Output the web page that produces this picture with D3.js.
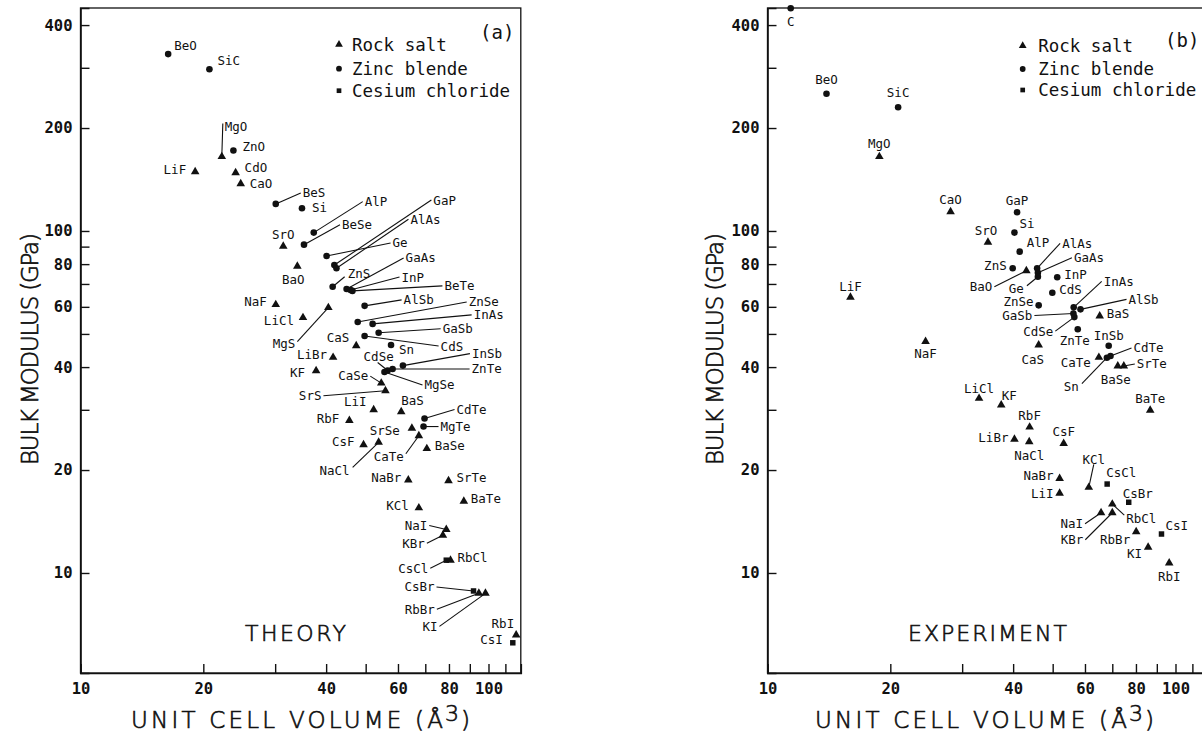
<!DOCTYPE html>
<html>
<head>
<meta charset="utf-8">
<script src="https://cdn.jsdelivr.net/npm/d3@7"></script>
<style>
  html, body { margin: 0; padding: 0; background: #fff; }
  svg { display: block; }
</style>
</head>
<body>
<svg id="chart" width="1202" height="736"></svg>
<script>
// ---------------- Theory: unit cell volume (Å^3) vs bulk modulus (GPa) ----------------
// Structure codes: R = rock salt, Z = zinc blende, C = cesium chloride
const theoryNames = ["BeO","SiC","MgO","ZnO","LiF","CdO","CaO","BeS","Si","SrO","BeSe","AlP","BaO","NaF","LiCl","MgS","LiBr","KF","Ge","GaP","AlAs","ZnS","GaAs","InP","BeTe","AlSb","ZnSe","InAs","GaSb","CaS","CdS","Sn","CdSe","InSb","ZnTe","MgSe","CaSe","SrS","LiI","BaS","RbF","CdTe","SrSe","MgTe","CsF","NaCl","CaTe","BaSe","NaBr","SrTe","BaTe","KCl","NaI","KBr","CsCl","RbCl","CsBr","RbBr","KI","RbI","CsI"];
const theoryStructure = ["Z","Z","R","Z","R","R","R","Z","Z","R","Z","Z","R","R","R","R","R","R","Z","Z","Z","Z","Z","Z","Z","Z","Z","Z","Z","R","Z","Z","Z","Z","Z","Z","R","R","R","R","R","Z","R","Z","R","R","R","R","R","R","R","R","R","R","C","R","C","R","R","R","C"];
const theoryVolume = [16.4,20.7,22.2,23.7,19.1,24.0,24.7,30.1,34.9,31.4,35.3,37.3,34.0,30.1,35.1,40.5,41.6,37.8,40.1,41.9,42.4,41.5,44.9,45.9,46.4,49.7,47.8,52.0,53.8,47.4,49.7,57.7,56.6,61.7,58.2,55.6,54.6,55.9,52.3,61.1,45.6,69.7,64.9,69.3,49.4,53.8,67.5,70.6,63.6,79.8,87.0,67.5,78.8,77.3,78.8,80.7,91.9,94.7,98.3,116.9,114.7];
const theoryModulus = [329,297,165,172,149,148,137.5,120,116.5,90.2,91.2,98.9,78.9,60.9,55.8,59.7,42.7,39.0,84.5,79.5,77.8,68.7,67.7,67.2,66.8,60.4,54.2,53.5,50.4,46.2,49.3,46.4,39.1,40.4,39.5,38.7,35.9,34.1,30.0,29.6,27.9,28.3,26.5,26.8,23.7,24.1,25.2,23.1,18.7,18.6,16.2,15.5,13.4,12.9,10.9,10.9,8.86,8.72,8.72,6.59,6.25];

// ---------------- Experiment ----------------
const experimentNames = ["C","BeO","SiC","MgO","CaO","SrO","LiF","NaF","GaP","Si","AlP","ZnS","BaO","AlAs","GaAs","Ge","InP","CdS","ZnSe","InAs","AlSb","GaSb","CdSe","BaS","ZnTe","InSb","CdTe","Sn","CaS","CaTe","BaSe","SrTe","BaTe","KF","LiCl","RbF","LiBr","NaCl","CsF","NaBr","LiI","KCl","CsCl","CsBr","RbCl","NaI","KBr","RbBr","CsI","KI","RbI"];
const experimentStructure = ["Z","Z","Z","R","R","R","R","R","Z","Z","Z","Z","R","Z","Z","Z","Z","Z","Z","Z","Z","Z","Z","R","Z","Z","Z","Z","R","R","R","R","R","R","R","R","R","R","R","R","R","R","C","C","R","R","R","R","C","R","R"];
const experimentVolume = [11.4,13.95,20.9,18.8,28.1,34.7,15.97,24.4,40.9,40.3,41.5,39.9,43.1,45.8,46.0,46.0,51.3,49.9,46.2,56.3,58.5,56.2,56.5,65.2,57.6,68.6,69.3,67.9,46.2,64.9,72.2,74.7,86.7,37.4,33.0,43.9,40.3,43.8,53.2,52.0,52.0,61.3,68.0,76.8,70.0,65.7,70.0,80.1,92.4,85.7,96.5];
const experimentModulus = [448,252,230,165,113.9,92.7,64.0,47.5,113.4,98.9,87.0,77.8,76.5,77.8,75.5,73.5,73.2,66.0,60.6,59.8,59.0,57.4,56.0,56.4,51.6,46.2,43.1,42.6,46.4,42.7,40.3,40.3,29.9,31.0,32.4,26.7,24.6,24.2,23.9,18.9,17.1,17.8,18.2,16.1,15.9,15.0,15.0,13.2,13.0,11.9,10.7];

// ---------------- Axis ticks and legend ----------------
const xTickValues = [10,20,30,40,50,60,70,80,90,100,110];
const xTickLabels = ["10","20","","40","","60","","80","","100",""];
const yTickValues = [10,20,30,40,50,60,70,80,90,100,200,300,400];
const yTickLabels = ["10","20","","40","","60","","80","","100","200","","400"];
const legendKeys = ["R","Z","C"];
const legendLabels = ["Rock salt","Zinc blende","Cesium chloride"];

// Label placement: [dx, dy, anchor (s|e|m), leader (1 = to text edge, or [dx,dy] end point)]
const theoryLabelPlacement = {
  BeO:[6,-9,"s"], SiC:[8,-9,"s"], MgO:[3,-30,"s",[1,-33]], ZnO:[9,-4,"s"], LiF:[-9,-2,"e"],
  CdO:[9,-5,"s"], CaO:[9,0,"s"], BeS:[27,-11,"s",1], Si:[10,-1,"s"], SrO:[0,-12,"m"],
  BeSe:[38,-20,"s",1], AlP:[51,-31,"s",1], BaO:[-4,13,"m"], NaF:[-9,-3,"e"], LiCl:[-9,3,"e"],
  MgS:[-33,36,"e",[-31,34]], LiBr:[-6,-3,"e"], KF:[-11,2,"e"], Ge:[66,-13,"s",1], GaP:[99,-65,"s",1],
  AlAs:[74,-49,"s",1], ZnS:[15,-13,"s",[12,-10]], GaAs:[59,-31,"s",1], InP:[51,-13,"s",1], BeTe:[92,-5,"s",1],
  AlSb:[39,-6,"s",1], ZnSe:[111,-20,"s",1], InAs:[101,-9,"s",1], GaSb:[64,-4,"s",1], CaS:[-7,-8,"e"],
  CdS:[76,10,"s",1], Sn:[8,4,"s"], CdSe:[-9,-14,"m",[-10,-8]], InSb:[69,-12,"s",1], ZnTe:[79,0,"s",1],
  MgSe:[40,13,"s",1], CaSe:[-13,-8,"e",[-11,-7]], SrS:[-64,5,"e",1], LiI:[-7,-8,"e"], BaS:[0,-11,"s"],
  RbF:[-10,-2,"e"], CdTe:[32,-9,"s",1], SrSe:[-12,2,"e"], MgTe:[17,0,"s",1], CsF:[-9,-3,"e"],
  NaCl:[-29,28,"e",[-26,25]], CaTe:[-15,21,"e",[-13,18]], BaSe:[8,-3,"s"], NaBr:[-7,-3,"e"], SrTe:[8,-3,"s"],
  BaTe:[7,-3,"s"], KCl:[-10,-2,"e"], NaI:[-19,-4,"e",1], KBr:[-18,8,"e",1], CsCl:[-18,8,"e",1],
  RbCl:[7,-3,"s"], CsBr:[-39,-4,"e",1], RbBr:[-44,16,"e",1], KI:[-48,33,"e",1], RbI:[-2,-11,"e"], CsI:[-10,-3,"e"]
};
const experimentLabelPlacement = {
  C:[0,13,"m"], BeO:[0,-14,"m"], SiC:[0,-15,"m"], MgO:[0,-13,"m"], CaO:[0,-12,"m"], SrO:[-2,-12,"m"],
  LiF:[0,-11,"m"], NaF:[0,12,"m"], GaP:[0,-12,"m"], Si:[5,-9,"s"], AlP:[7,-9,"s"], ZnS:[-6,-3,"e"],
  BaO:[-34,16,"e",1], AlAs:[25,-25,"s",1], GaAs:[36,-15,"s",1], Ge:[-14,12,"e",[-11,9]], InP:[7,-3,"s"],
  CdS:[7,-3,"s"], ZnSe:[-5,-4,"e"], InAs:[30,-26,"s",1], AlSb:[48,-10,"s",1], GaSb:[-41,2,"e",1],
  CdSe:[-21,14,"e",1], BaS:[7,-3,"s"], ZnTe:[-3,11,"m"], InSb:[0,-10,"m"], CdTe:[23,-8,"s",1],
  Sn:[-28,29,"e",[-25,26]], CaS:[-6,14,"m"], CaTe:[-8,5,"e"], BaSe:[-2,14,"m"], SrTe:[13,-2,"s",1],
  BaTe:[0,-12,"m"], KF:[8,-9,"m"], LiCl:[0,-10,"m"], RbF:[0,-12,"m"], LiBr:[-6,-2,"e"], NaCl:[0,14,"m"],
  CsF:[0,-12,"m"], NaBr:[-6,-3,"e"], LiI:[-6,0,"e"], KCl:[5,-28,"m",[5,-23]], CsCl:[-1,-12,"s"],
  CsBr:[-6,-9,"s"], RbCl:[14,14,"s",[12,11]], NaI:[-18,11,"e",1], KBr:[-29,27,"e",1], RbBr:[-6,8,"e"],
  CsI:[4,-9,"s"], KI:[-6,6,"e"], RbI:[0,14,"m"]
};

// ---------------- Drawing ----------------
const svg = d3.select("#chart");
const MONO = "'DejaVu Sans Mono', monospace";
const SANS = "'DejaVu Sans', sans-serif";

const yScale = d3.scaleLog().domain([5.1, 448.7]).range([673, 8]);
const symbolFor = { R: d3.symbolTriangle, Z: d3.symbolCircle, C: d3.symbolSquare };
const symbolSize = { R: 32, Z: 34, C: 30 };
const legendSize = { R: 26, Z: 26, C: 22 };
const anchorOf = { s: "start", e: "end", m: "middle" };

// thin plotter-style lettering for titles and captions
function titleStyle(sel, size) {
  return sel.style("font-family", SANS).style("font-size", size + "px").style("font-weight", 200)
    .attr("fill", "#111").attr("stroke", "#111").attr("stroke-width", 0.65);
}

function drawPanel(cfg) {
  const x = d3.scaleLog().domain([10, 120]).range([cfg.left, cfg.left + 440.3]);
  const [x0, x1] = x.range();
  const [yb, yt] = yScale.range();
  const g = svg.append("g");

  // frame
  g.append("rect")
    .attr("x", x0).attr("y", yt).attr("width", x1 - x0).attr("height", yb - yt)
    .attr("fill", "none").attr("stroke", "#111").attr("stroke-width", 1.3);

  // axes with inward ticks
  const xAxis = d3.axisBottom(x).tickValues(xTickValues)
    .tickFormat((d, i) => xTickLabels[i]).tickSize(-9).tickPadding(10);
  const gx = g.append("g").attr("transform", `translate(0,${yb})`).call(xAxis);
  const yAxis = d3.axisLeft(yScale).tickValues(yTickValues)
    .tickFormat((d, i) => yTickLabels[i]).tickSize(-9).tickPadding(8);
  const gy = g.append("g").attr("transform", `translate(${x0},0)`).call(yAxis);
  [gx, gy].forEach(a => {
    a.select(".domain").attr("stroke", "#111").attr("stroke-width", 1.6);
    a.selectAll(".tick line").attr("stroke", "#111").attr("stroke-width", 1.4);
    a.selectAll(".tick text").attr("fill", "#111")
      .style("font-family", MONO).style("font-size", "15.5px").style("font-weight", "bold");
  });

  // axis titles
  titleStyle(g.append("text").attr("x", cfg.xTitleX).attr("y", 728).attr("textLength", 312), 23)
    .text("UNIT CELL VOLUME  (Å");
  titleStyle(g.append("text").attr("x", cfg.xTitleX + 314).attr("y", 721), 22).text("3");
  titleStyle(g.append("text").attr("x", cfg.xTitleX + 330).attr("y", 728), 23).text(")");
  titleStyle(g.append("text")
    .attr("transform", `translate(${cfg.yTitleX},349) rotate(-90)`)
    .attr("text-anchor", "middle").attr("textLength", 232), 23)
    .text("BULK MODULUS  (GPa)");

  // panel caption
  titleStyle(g.append("text").attr("x", cfg.captionX).attr("y", 641)
    .attr("textLength", cfg.captionLen), 22)
    .text(cfg.caption);

  // panel tag
  g.append("text").attr("x", cfg.tagX).attr("y", cfg.tagY).attr("dy", "0.35em")
    .style("font-family", MONO).style("font-size", "19px").attr("fill", "#111")
    .text(cfg.tag);

  // legend
  legendKeys.forEach((k, i) => {
    g.append("path")
      .attr("d", d3.symbol(symbolFor[k], legendSize[k])())
      .attr("transform", `translate(${cfg.legendX},${cfg.legendY[i]})`)
      .attr("fill", "#111");
    g.append("text").attr("x", cfg.legendX + cfg.legendGap).attr("y", cfg.legendY[i])
      .attr("dy", "0.36em")
      .style("font-family", MONO).style("font-size", "17.5px").attr("fill", "#111")
      .text(legendLabels[i]);
  });

  // points
  const pts = cfg.names.map((n, i) => ({
    name: n, s: cfg.structure[i], px: x(cfg.volume[i]), py: yScale(cfg.modulus[i]),
    p: cfg.placement[n]
  }));

  // leader lines
  pts.filter(d => d.p && d.p[3]).forEach(d => {
    const [dx, dy, a, l] = d.p;
    let ex, ey;
    if (Array.isArray(l)) { ex = l[0]; ey = l[1]; }
    else if (a === "s") { ex = dx - 2; ey = dy; }
    else if (a === "e") { ex = dx + 2; ey = dy; }
    else { ex = dx; ey = dy + (dy < 0 ? 5 : -5); }
    g.append("line")
      .attr("x1", d.px).attr("y1", d.py).attr("x2", d.px + ex).attr("y2", d.py + ey)
      .attr("stroke", "#111").attr("stroke-width", 1.1);
  });

  // markers
  g.selectAll("path.pt").data(pts).join("path")
    .attr("class", "pt")
    .attr("d", d => d3.symbol(symbolFor[d.s], symbolSize[d.s])())
    .attr("transform", d => `translate(${d.px},${d.py})`)
    .attr("fill", "#111");

  // compound labels
  g.selectAll("text.lbl").data(pts.filter(d => d.p)).join("text")
    .attr("class", "lbl")
    .attr("x", d => d.px + d.p[0]).attr("y", d => d.py + d.p[1])
    .attr("dy", "0.36em")
    .attr("text-anchor", d => anchorOf[d.p[2]])
    .style("font-family", MONO).style("font-size", "12.5px").attr("fill", "#111")
    .text(d => d.name);
}

drawPanel({
  left: 80.5, names: theoryNames, structure: theoryStructure,
  volume: theoryVolume, modulus: theoryModulus, placement: theoryLabelPlacement,
  xTitleX: 131, yTitleX: 38, caption: "THEORY", captionX: 245, captionLen: 101,
  tag: "(a)", tagX: 480, tagY: 32,
  legendX: 339, legendY: [44.5, 68.7, 90.7], legendGap: 13
});
drawPanel({
  left: 767.5, names: experimentNames, structure: experimentStructure,
  volume: experimentVolume, modulus: experimentModulus, placement: experimentLabelPlacement,
  xTitleX: 815, yTitleX: 723, caption: "EXPERIMENT", captionX: 908, captionLen: 159,
  tag: "(b)", tagX: 1165, tagY: 40,
  legendX: 1022.7, legendY: [45.7, 69, 90], legendGap: 15.5
});
</script>
</body>
</html>
